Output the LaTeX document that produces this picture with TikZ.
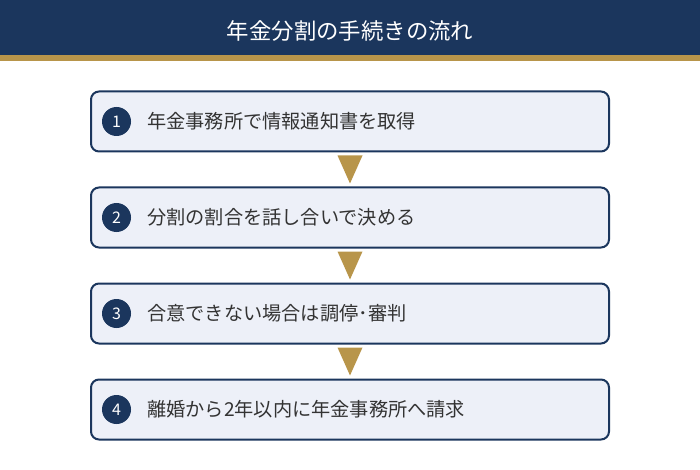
\documentclass[tikz,border=0pt]{standalone}
\usepackage{fontspec}
\setmainfont{Noto Sans CJK JP}
\usetikzlibrary{calc}
\definecolor{navy}{HTML}{1B365D}
\definecolor{gold}{HTML}{B8954A}
\definecolor{pale}{HTML}{EDF0F8}
\definecolor{ink}{HTML}{333333}
\tikzset{
  stepbox/.style={draw=navy,line width=2pt,fill=pale,rounded corners=8pt,minimum width=518pt,minimum height=60pt,inner sep=0pt},
  num/.style={circle,fill=navy,text=white,minimum size=29pt,inner sep=0pt,font=\fontsize{16}{16}\selectfont},
  steptext/.style={anchor=west,inner sep=0pt,text=ink,font=\fontsize{19.2}{19.2}\selectfont},
  tri/.style={fill=gold}
}

\begin{document}
\begin{tikzpicture}[x=1pt,y=-1pt,node distance=96pt]
      \useasboundingbox (0,0) rectangle (700,470);
      \fill[navy] (0,0) rectangle (700,55);
      \fill[gold] (0,55) rectangle (700,61);
      \node [text=white,font=\fontsize{22.4}{22.4}\selectfont] (title) at (350,31) {年金分割の手続きの流れ};

      \node [stepbox] (1) at (350,121.5) {};
      \node [stepbox,below of=1] (2) {};
      \node [stepbox,below of=2] (3) {};
      \node [stepbox,below of=3] (4) {};

      \node [num] (n1) at ($(1.west)+(26.5,0)$) {1};
      \node [num] (n2) at ($(2.west)+(26.5,0)$) {2};
      \node [num] (n3) at ($(3.west)+(26.5,0)$) {3};
      \node [num] (n4) at ($(4.west)+(26.5,0)$) {4};

      \node [steptext] (t1) at ($(1.west)+(57,0)$) {年金事務所で情報通知書を取得};
      \node [steptext] (t2) at ($(2.west)+(57,0)$) {分割の割合を話し合いで決める};
      \node [steptext] (t3) at ($(3.west)+(57,0)$) {合意できない場合は調停･審判};
      \node [steptext] (t4) at ($(4.west)+(57,0)$) {離婚から2年以内に年金事務所へ請求};

      \fill [tri] ($(1.south)!0.5!(2.north)$) +(-12.5,-14) -- +(12.5,-14) -- +(0,14) -- cycle;
      \fill [tri] ($(2.south)!0.5!(3.north)$) +(-12.5,-14) -- +(12.5,-14) -- +(0,14) -- cycle;
      \fill [tri] ($(3.south)!0.5!(4.north)$) +(-12.5,-14) -- +(12.5,-14) -- +(0,14) -- cycle;
    \end{tikzpicture}
\end{document}
